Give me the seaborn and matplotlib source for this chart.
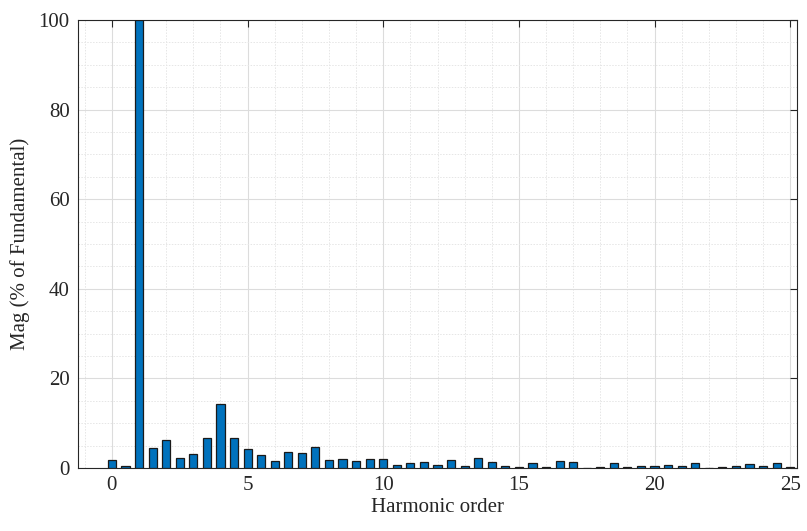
import numpy as np
import pandas as pd
import matplotlib
matplotlib.use("Agg")
import matplotlib.pyplot as plt
import seaborn as sns
from matplotlib.ticker import MultipleLocator

harmonic_order = [0, 0.5, 1, 1.5, 2, 2.5, 3, 3.5, 4, 4.5, 5, 5.5, 6, 6.5, 7, 7.5,
                  8, 8.5, 9, 9.5, 10, 10.5, 11, 11.5, 12, 12.5, 13, 13.5, 14, 14.5,
                  15, 15.5, 16, 16.5, 17, 17.5, 18, 18.5, 19, 19.5, 20, 20.5, 21,
                  21.5, 22, 22.5, 23, 23.5, 24, 24.5, 25]
magnitude = [1.8, 0.4, 100, 4.4, 6.2, 2.2, 3.2, 6.8, 14.2, 6.8, 4.2, 3.0, 1.5, 3.6,
             3.3, 4.7, 1.8, 1.9, 1.5, 1.9, 1.9, 0.7, 1.2, 1.3, 0.7, 1.8, 0.5, 2.2,
             1.3, 0.4, 0.2, 1.2, 0.2, 1.5, 1.3, 0.0, 0.2, 1.2, 0.2, 0.5, 0.5, 0.7,
             0.5, 1.2, 0.0, 0.2, 0.35, 1.0, 0.5, 1.2, 0.2]
x_ticks = [0, 5, 10, 15, 20, 25]
y_ticks = [0, 20, 40, 60, 80, 100]

df = pd.DataFrame({"order": harmonic_order, "mag": magnitude})

sns.set_style("white")
plt.rcParams["font.family"] = ["Liberation Serif", "DejaVu Serif"]

fig = plt.figure(figsize=(8.07, 5.31), dpi=100)
ax = fig.add_axes([78 / 807, (531 - 468) / 531, (797 - 78) / 807, (468 - 20) / 531])

sns.barplot(data=df, x="order", y="mag", native_scale=True, width=0.6,
            color="#0072BD", saturation=1, edgecolor="#1a1a1a", linewidth=0.9,
            ax=ax, zorder=3)

ax.set_xlim(-1.25, 25.25)
ax.set_ylim(0, 100)
ax.set_xticks(x_ticks)
ax.set_yticks(y_ticks)
ax.xaxis.set_minor_locator(MultipleLocator(1))
ax.yaxis.set_minor_locator(MultipleLocator(5))
ax.grid(True, which="major", color="#dcdcdc", linewidth=0.8, zorder=0)
ax.grid(True, which="minor", color="#e6e6e6", linewidth=0.7, linestyle=(0, (1.5, 1.5)), zorder=0)
ax.set_axisbelow(True)

ax.tick_params(which="major", direction="in", length=5, width=0.8, top=True, right=True,
               labelsize=15, colors="#262626", pad=6)
ax.tick_params(which="minor", length=0, top=True, right=True)
for s in ax.spines.values():
    s.set_visible(True)
    s.set_color("#262626")
    s.set_linewidth(0.8)

ax.set_xlabel("Harmonic order", fontsize=15, color="#262626", labelpad=2)
ax.set_ylabel("Mag (% of Fundamental)", fontsize=15, color="#262626", labelpad=6)

fig.savefig("out.png", dpi=100)
